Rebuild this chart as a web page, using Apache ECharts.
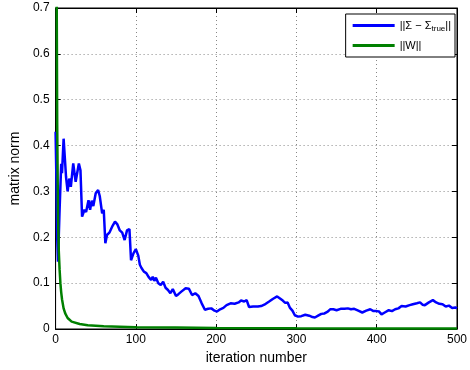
<!DOCTYPE html>
<html>
<head>
<meta charset="utf-8">
<script src="https://cdn.jsdelivr.net/npm/echarts@6/dist/echarts.min.js"></script>
<style>
html,body{margin:0;padding:0;background:#fff;}
#c{width:470px;height:370px;}
</style>
</head>
<body>
<div id="c"></div>
<script>
var xTicks = [0, 100, 200, 300, 400, 500];
var yTicks = [0, 0.1, 0.2, 0.3, 0.4, 0.5, 0.6, 0.7];

var sigmaIter = [0,1,2,3,5,7,8,10,12,13,15,17,19,22,25,29,31,33,36,38,41,43,45,47,50,53,55,58,60,62,64,67,71,74,77,80,83,86,89,92,94,97,100,103,105,107,110,113,116,119,121,123,125,128,131,134,137,140,143,146,150,153,157,162,166,170,174,178,182,186,190,194,198,201,205,209,213,218,223,228,231,235,238,241,246,252,256,260,266,271,276,280,283,286,289,292,295,298,302,306,311,316,320,323,327,331,335,339,342,346,350,355,360,364,368,372,377,382,387,392,396,400,403,406,410,415,419,423,427,431,436,441,445,450,454,457,460,465,470,474,478,482,486,490,494,498,500];
var sigmaVal = [0.43,0.33,0.2,0.147,0.26,0.36,0.34,0.415,0.36,0.332,0.30,0.328,0.31,0.361,0.321,0.361,0.346,0.245,0.26,0.255,0.281,0.26,0.28,0.268,0.296,0.303,0.29,0.252,0.26,0.187,0.205,0.21,0.225,0.234,0.228,0.215,0.21,0.194,0.215,0.218,0.15,0.165,0.174,0.16,0.14,0.133,0.125,0.122,0.113,0.107,0.114,0.105,0.112,0.10,0.096,0.103,0.09,0.085,0.078,0.087,0.072,0.076,0.082,0.089,0.088,0.074,0.078,0.072,0.056,0.042,0.044,0.045,0.040,0.038,0.043,0.046,0.052,0.056,0.055,0.058,0.062,0.060,0.063,0.048,0.049,0.049,0.050,0.053,0.060,0.066,0.071,0.066,0.062,0.057,0.058,0.046,0.040,0.030,0.027,0.028,0.031,0.029,0.026,0.025,0.029,0.033,0.034,0.038,0.043,0.043,0.041,0.044,0.044,0.045,0.043,0.044,0.040,0.036,0.040,0.043,0.039,0.039,0.038,0.032,0.036,0.041,0.039,0.043,0.045,0.050,0.049,0.052,0.054,0.056,0.058,0.053,0.052,0.058,0.063,0.058,0.055,0.054,0.049,0.051,0.046,0.047,0.045];

var wIter = [0,1,2,3,4,5,6,7,8,10,12,15,20,30,40,60,100,150,200,300,400,500];
var wVal = [1.2,0.9,0.45,0.25,0.17,0.13,0.1,0.08,0.065,0.045,0.034,0.024,0.016,0.011,0.008,0.006,0.004,0.003,0.002,0.0015,0.0012,0.001];

function pairs(xs, ys){ var out=[]; for(var i=0;i<xs.length;i++) out.push([xs[i], ys[i]]); return out; }

var font = 'Liberation Sans, Arial, sans-serif';
var chart = echarts.init(document.getElementById('c'), null, {renderer:'canvas'});
function axisLine(){ return {show:true, onZero:false, lineStyle:{color:'#000', width:1}}; }
function tickIn(){ return {show:true, inside:true, length:5, lineStyle:{color:'#000'}}; }
chart.setOption({
  animation:false,
  backgroundColor:'#fff',
  grid:{left:53, right:9, top:8, bottom:41, show:true, borderColor:'#000', borderWidth:1, backgroundColor:'transparent'},
  legend:{
    orient:'vertical', right:15, top:14,
    backgroundColor:'#fff', borderColor:'#000', borderWidth:1, borderRadius:0,
    padding:[6,4,6,7], itemGap:7,
    itemWidth:42, itemHeight:3, icon:'rect',
    textStyle:{fontFamily:font, fontSize:11, color:'#000',
      rich:{sub:{fontSize:8, fontFamily:font, color:'#000', padding:[7,0,0,0]}}},
    formatter:function(n){ return n==='sigma' ? '||Σ − Σ{sub|true}||' : '||W||'; },
    data:['sigma','W']
  },
  xAxis:[{
    type:'value', gridIndex:0, min:0, max:500, interval:100,
    name:'iteration number', nameLocation:'middle', nameGap:20,
    nameTextStyle:{fontFamily:font, fontSize:14, color:'#000'},
    axisLine:axisLine(), axisTick:tickIn(),
    axisLabel:{fontFamily:font, fontSize:12, color:'#000', margin:5},
    splitLine:{show:true, lineStyle:{color:'#888', type:[1,3], width:1}}
  },{
    type:'value', gridIndex:0, min:0, max:500, interval:100, position:'top', show:true,
    axisLine:axisLine(), axisTick:tickIn(), axisLabel:{show:false}, splitLine:{show:false}
  }],
  yAxis:[{
    type:'value', gridIndex:0, min:0, max:0.7, interval:0.1,
    name:'matrix norm', nameLocation:'middle', nameGap:31,
    nameTextStyle:{fontFamily:font, fontSize:14, color:'#000'},
    axisLine:axisLine(), axisTick:tickIn(),
    axisLabel:{fontFamily:font, fontSize:12, color:'#000', margin:6,
      formatter:function(v){ return String(Math.round(v*10)/10); }},
    splitLine:{show:true, lineStyle:{color:'#888', type:[1,3], width:1}}
  },{
    type:'value', gridIndex:0, min:0, max:0.7, interval:0.1, position:'right', show:true,
    axisLine:axisLine(), axisTick:tickIn(), axisLabel:{show:false}, splitLine:{show:false}
  }],
  series:[{
    name:'sigma', type:'line', showSymbol:false, symbol:'none', clip:true,
    color:'#0000ff', lineStyle:{color:'#0000ff', width:2.5},
    data:pairs(sigmaIter, sigmaVal), z:3
  },{
    name:'W', type:'line', showSymbol:false, symbol:'none', clip:true,
    color:'#008000', lineStyle:{color:'#008000', width:2.5},
    data:pairs(wIter, wVal), z:4
  }]
});
</script>
</body>
</html>
